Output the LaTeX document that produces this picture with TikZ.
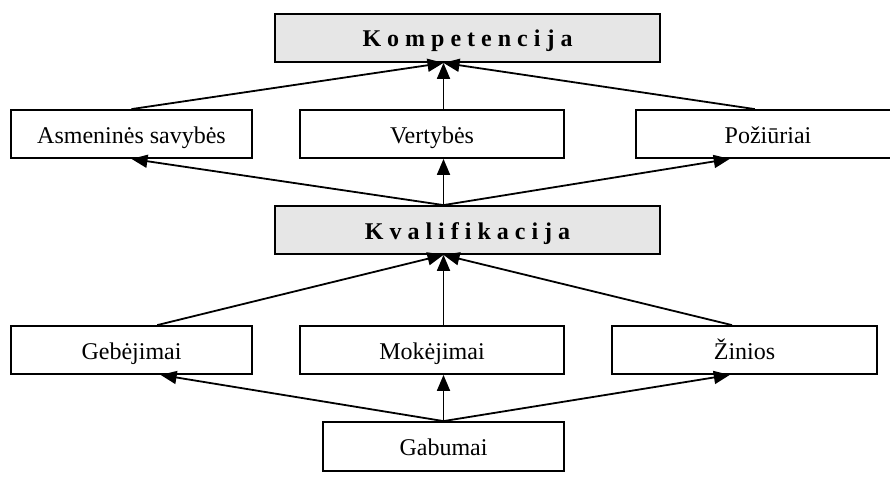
\documentclass[tikz,border=0pt]{standalone}
\usepackage{fontspec}
\setmainfont{Liberation Serif}
\usetikzlibrary{arrows.meta,calc}
\definecolor{boxgray}{HTML}{E6E6E6}
\begin{document}
\begin{tikzpicture}[x=1pt,y=-1pt,
  box/.style={draw=black,line width=1.8pt,minimum height=48pt,inner sep=0pt,
    text height=23pt,text depth=5pt,
    font=\fontsize{24}{24}\selectfont},
  mainbox/.style={box,fill=boxgray,font=\fontsize{24}{24}\selectfont\bfseries},
  arr/.style={line width=1.8pt,-{Triangle[length=16pt,width=13pt]}}]
\useasboundingbox (0,0) rectangle (890,495);
\clip (0,0) rectangle (890,495);
\node[mainbox,minimum width=385pt] (kom) at (467.5,38) {K o m p e t e n c i j a};
\node[box,minimum width=241pt] (asm) at (131.5,134) {Asmeninės savybės};
\node[box,minimum width=264pt] (vert) at (432,134) {Vertybės};
\node[box,minimum width=264pt] (poz) at (768,134) {Požiūriai};
\node[mainbox,minimum width=385pt] (kval) at (467.5,230) {K v a l i f i k a c i j a};
\node[box,minimum width=241pt] (geb) at (131.5,350) {Gebėjimai};
\node[box,minimum width=264pt] (mok) at (432,350) {Mokėjimai};
\node[box,minimum width=265pt] (zin) at (744.5,350) {Žinios};
\node[box,minimum width=241pt,minimum height=49pt] (gab) at (443.5,446.5) {Gabumai};
% hub points
\coordinate (kb) at (kom.south -| gab.north);
\coordinate (vt) at (vert.north -| gab.north);
\coordinate (vb) at (vert.south -| gab.north);
\coordinate (qt) at (kval.north -| gab.north);
\coordinate (qb) at (kval.south -| gab.north);
\coordinate (mt) at (mok.north -| gab.north);
\coordinate (mb) at (mok.south -| gab.north);
\coordinate (pt) at ($(poz.north west)!0.45!(poz.north east)$);
\coordinate (pb) at ($(poz.south west)!0.356!(poz.south east)$);
\coordinate (gt) at ($(geb.north west)!0.606!(geb.north east)$);
\coordinate (gb) at ($(geb.south west)!0.62!(geb.south east)$);
\coordinate (zt) at ($(zin.north west)!0.453!(zin.north east)$);
\coordinate (zb) at ($(zin.south west)!0.445!(zin.south east)$);
% arrows
\draw[arr] (asm.north) -- (kb);
\draw[arr] (vt) -- (kb);
\draw[arr] (pt) -- (kb);
\draw[arr] (qt) -- (asm.south);
\draw[arr] (qt) -- (vb);
\draw[arr] (qt) -- (pb);
\draw[arr] (gt) -- (qb);
\draw[arr] (mt) -- (qb);
\draw[arr] (zt) -- (qb);
\draw[arr] (gab.north) -- (gb);
\draw[arr] (gab.north) -- (mb);
\draw[arr] (gab.north) -- (zb);
\end{tikzpicture}
\end{document}
